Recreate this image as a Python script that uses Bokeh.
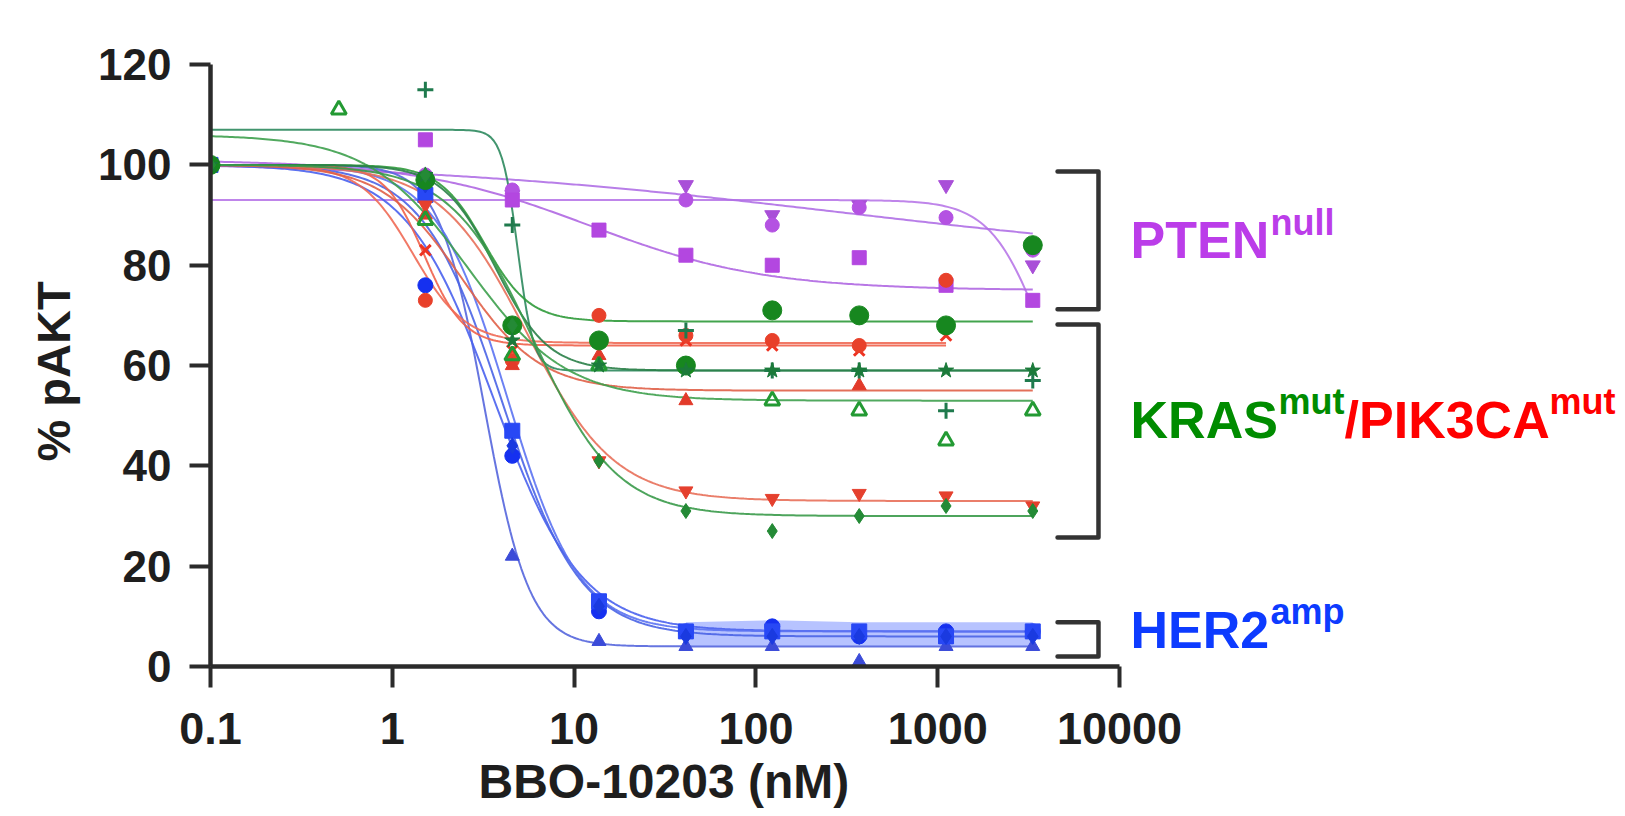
import numpy as np
from bokeh.plotting import figure
from bokeh.models import Range1d, FixedTicker, Title
from bokeh.core.properties import value
from bokeh.embed import file_html
from bokeh.resources import INLINE

nan = float("nan")

# ---- data -------------------------------------------------------------
conc = [0.1, 0.508, 1.52, 4.57, 13.7, 41.2, 123.0, 370.0, 1111.0, 3333.0]

# PTEN null (purple)
pten_a = [100, nan, 97, 94, nan, 96, 90, 92, 96, 80]
pten_b = [100, nan, 98, 95, nan, 93, 88, 91.5, 89.5, 83]
pten_c = [100, nan, 105, 93, 87, 82, 80, 81.5, 76, 73]
# HER2 amp (blue)
her2_a = [100, nan, 95, 22, 5, 4, 4, 1, 4, 4]
her2_b = [100, nan, 76, 42, 11, 7, 8, 6, 7, 7]
her2_c = [100, nan, 94, 47, 13, 7, 7, 7, 6, 7]
her2_d = [100, nan, 96, 44, 12, 6, 6, 6, 6, 6]
her2_lo = [4.0, 4.0, 4.0, 4.0, 4.0]
her2_hi = [8.8, 9.2, 8.8, 8.8, 8.8]
# PIK3CA mut (red)
pik_a = [100, nan, 83, 63, 65, 65, 64, 63, 66, nan]
pik_b = [100, nan, 73, 61, 70, 66, 65, 64, 77, nan]
pik_c = [100, nan, 90, 60, 62, 53, nan, 56, nan, nan]
pik_d = [100, nan, 92, 68, 41, 35, 33.5, 34.5, 34, 32]
# KRAS mut (green)
kras_a = [100, nan, 115, 88, nan, 67, 59, 59, 51, 57]
kras_b = [100, 111, 89, 62, 60, 60, 53, 51, 45, 51]
kras_c = [100, nan, 97, 68, 65, 60, 71, 70, 68, 84]
kras_d = [100, nan, 98, 65, 60, 59, 59, 59, 59, 59]
kras_e = [100, nan, 98, 68, 41, 31, 27, 30, 32, 31]

# 4-parameter logistic fits: top, bottom, IC50 (nM), hill, last conc
fit_top = [93, 101, 101, 100, 100, 100, 100, 100, 100, 100, 100, 107, 106, 100, 100, 100]
fit_bottom = [40, 80, 75, 4, 7, 7, 6, 64, 64.5, 55, 33, 59, 53, 68.8, 59, 30]
fit_ic50 = [3800, 300, 12, 3.2, 3.6, 4.3, 4.0, 1.5, 1.3, 2.4, 5.5, 4.9, 2.6, 3.2, 3.7, 6.0]
fit_hill = [3, 0.35, 0.9, 3.5, 1.8, 2.2, 2.0, 4, 3, 2, 1.8, 10, 1.6, 3.5, 3, 1.9]
fit_end = [3333, 3333, 3333, 3333, 3333, 3333, 3333, 1111, 1111, 3333, 3333, 3333, 3333, 3333, 3333, 3333]

series_values = [pten_a, pten_b, pten_c, her2_a, her2_b, her2_c, her2_d,
                 pik_a, pik_b, pik_c, pik_d, kras_a, kras_b, kras_c, kras_d, kras_e]

group_labels = ["PTEN", "KRAS", "/PIK3CA", "HER2"]
group_sups = ["null", "mut", "mut", "amp"]
group_label_y = [85, 49.2, 49.2, 7.3]
bracket_top = [98.7, 68.2, 8.8]
bracket_bottom = [71.2, 25.7, 2.0]

xtick_vals = [0.1, 1, 10, 100, 1000, 10000]
xtick_labels = ["0.1", "1", "10", "100", "1000", "10000"]
ytick_vals = [0, 20, 40, 60, 80, 100, 120]
x_title = "BBO-10203 (nM)"
y_title = "% pAKT"

# ---- styles -----------------------------------------------------------
styles = [
    dict(color="#A94FD8", marker="inverted_triangle", size=15, fill=True),
    dict(color="#B452E2", marker="circle", size=14, fill=True),
    dict(color="#B347E0", marker="square", size=14, fill=True),
    dict(color="#3B4BD8", marker="triangle", size=14, fill=True),
    dict(color="#1530F0", marker="circle", size=15, fill=True),
    dict(color="#2848F5", marker="square", size=15, fill=True),
    dict(color="#1A3AE0", marker="diamond", size=16, fill=True),
    dict(color="#EE3322", marker="x", size=15, fill=True),
    dict(color="#E8402A", marker="circle", size=14, fill=True),
    dict(color="#E23A2A", marker="triangle", size=14, fill=True),
    dict(color="#E5402E", marker="inverted_triangle", size=14, fill=True),
    dict(color="#1F7A4D", marker="cross", size=16, fill=True),
    dict(color="#239A33", marker="triangle", size=15, fill=False),
    dict(color="#17871F", marker="circle", size=19, fill=True),
    dict(color="#1B7A3A", marker="star", size=16, fill=True),
    dict(color="#248A36", marker="diamond", size=15, fill=True),
]
line_colors = ["#B878E8", "#B070E6", "#B068E2", "#5566DD", "#4A62EE", "#5C73F2", "#4A64E6",
               "#F0604A", "#F06A55", "#E06048", "#E8705A", "#2E8A5E", "#3EA04E", "#2F9A3A",
               "#2A7F48", "#3A9A4A"]

FONT = "Liberation Sans"
DARK = "#1e1e1e"

p = figure(width=1625, height=816, x_axis_type="log",
           x_range=Range1d(0.1, 10 ** 6.783), y_range=Range1d(0, 125),
           output_backend="svg", toolbar_location=None,
           min_border_left=210, min_border_right=0, min_border_top=39, min_border_bottom=150)
p.outline_line_color = None
p.xgrid.visible = False
p.ygrid.visible = False
p.background_fill_color = "white"

# HER2 band
p.varea(x=conc[5:], y1=her2_lo, y2=her2_hi, fill_color="#6F88FF", fill_alpha=0.5)

# fitted curves
for i in range(len(series_values)):
    xs = np.logspace(-1, np.log10(fit_end[i]), 300)
    ys = fit_bottom[i] + (fit_top[i] - fit_bottom[i]) / (1 + (xs / fit_ic50[i]) ** fit_hill[i])
    p.line(xs, ys, line_color=line_colors[i], line_width=2, line_alpha=0.9)

# data points
for vals, st in zip(series_values, styles):
    x = [c for c, v in zip(conc, vals) if not np.isnan(v)]
    y = [v for v in vals if not np.isnan(v)]
    if st["fill"]:
        p.scatter(x, y, marker=st["marker"], size=st["size"], fill_color=st["color"],
                  line_color=st["color"], line_width=3 if st["marker"] in ("x", "cross") else 1)
    else:
        p.scatter(x, y, marker=st["marker"], size=st["size"], fill_color="white", fill_alpha=0.0,
                  line_color=st["color"], line_width=3)

# brackets
bx1, bx2 = 4560, 7660
for t, b in zip(bracket_top, bracket_bottom):
    p.line([bx1, bx2, bx2, bx1], [t, t, b, b], line_color="#333333", line_width=4.5,
           line_join="round", line_cap="round")

# group labels with superscripts
lx = 11500
big = "52px"
small = "36px"
def piece(txt, y, xoff, color, size, yoff=0):
    p.text(x=[lx], y=[y], text=[txt], x_offset=xoff, y_offset=yoff, text_color=color,
           text_font=value(FONT), text_font_style="bold", text_font_size=size,
           text_baseline="alphabetic", text_align="left")

LBL_PURPLE = "#BB3DE9"
LBL_GREEN = "#008C00"
LBL_RED = "#FF0000"
LBL_BLUE = "#0D3BFF"
piece(group_labels[0], group_label_y[0], 0, LBL_PURPLE, big)
piece(group_sups[0], group_label_y[0], 140, LBL_PURPLE, small, -18)
piece(group_labels[1], group_label_y[1], 0, LBL_GREEN, big)
piece(group_sups[1], group_label_y[1], 148, LBL_GREEN, small, -18)
piece(group_labels[2], group_label_y[2], 214, LBL_RED, big)
piece(group_sups[2], group_label_y[2], 419, LBL_RED, small, -18)
piece(group_labels[3], group_label_y[3], 0, LBL_BLUE, big)
piece(group_sups[3], group_label_y[3], 140, LBL_BLUE, small, -18)

# axes
xa = p.xaxis[0]
ya = p.yaxis[0]
xa.ticker = FixedTicker(ticks=xtick_vals, minor_ticks=[])
xa.major_label_overrides = {v: l for v, l in zip(xtick_vals, xtick_labels)}
xa.bounds = (0.1, 10000)
ya.ticker = FixedTicker(ticks=ytick_vals, minor_ticks=[])
ya.bounds = (0, 120)
for ax in (xa, ya):
    ax.axis_line_width = 4.5
    ax.axis_line_color = "#2b2b2b"
    ax.major_tick_line_width = 4
    ax.major_tick_line_color = "#2b2b2b"
    ax.major_tick_out = 21
    ax.major_tick_in = 0
    ax.minor_tick_out = 0
    ax.minor_tick_in = 0
    ax.major_label_text_font = FONT
    ax.major_label_text_font_style = "bold"
    ax.major_label_text_color = DARK
xa.major_label_text_font_size = "45px"
ya.major_label_text_font_size = "44px"
xa.major_label_standoff = 25
ya.major_label_standoff = 18

# axis titles, positioned along the bounded axes (the frame extends past 10000 for the labels)
p.add_layout(Title(text=x_title, align="left", offset=268, standoff=13,
                   text_font=FONT, text_font_style="bold", text_font_size="48px",
                   text_color=DARK), "below")
p.add_layout(Title(text=y_title, align="left", offset=205, standoff=32,
                   text_font=FONT, text_font_style="bold", text_font_size="47px",
                   text_color=DARK), "left")

open("out.html", "w").write(file_html(p, INLINE))
